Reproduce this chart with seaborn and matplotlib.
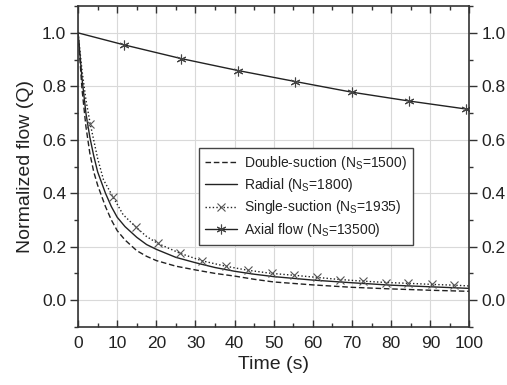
import numpy as np
import matplotlib
matplotlib.use("Agg")
import matplotlib.pyplot as plt
from matplotlib.lines import Line2D
from matplotlib.ticker import MultipleLocator
import seaborn as sns

# ---- data ----
t_double = [0, 1, 2, 3, 4, 5, 7, 8.5, 10, 12, 15, 17.5, 20, 25, 30, 35, 40, 45,
            50, 60, 70, 80, 90, 100]
q_double = [1.0, 0.79, 0.65, 0.55, 0.48, 0.43, 0.35, 0.30, 0.26, 0.225, 0.185,
            0.164, 0.148, 0.127, 0.113, 0.10, 0.09, 0.078, 0.068, 0.057, 0.048,
            0.042, 0.037, 0.033]

t_radial = [0, 1, 2, 3, 4, 5, 7, 8.5, 10, 12, 15, 17.5, 20, 25, 30, 35, 40, 45,
            50, 60, 70, 80, 90, 100]
q_radial = [1.0, 0.83, 0.70, 0.61, 0.54, 0.48, 0.40, 0.35, 0.31, 0.275, 0.235,
            0.208, 0.19, 0.16, 0.14, 0.122, 0.108, 0.097, 0.088, 0.075, 0.065,
            0.056, 0.05, 0.044]

t_single = [0, 1, 2, 3.1, 5, 6.5, 8.9, 11.5, 14.8, 17.5, 20.4, 26.1, 31.7, 37.7,
            43.3, 49.5, 55.2, 61.1, 67.0, 72.9, 78.7, 84.4, 90.3, 96.1, 100]
q_single = [1.0, 0.86, 0.75, 0.66, 0.53, 0.45, 0.387, 0.32, 0.273, 0.238, 0.212,
            0.175, 0.147, 0.127, 0.112, 0.10, 0.093, 0.085, 0.077, 0.071, 0.066,
            0.063, 0.059, 0.056, 0.053]
single_marker_t = [3.1, 8.9, 14.8, 20.4, 26.1, 31.7, 37.7, 43.3, 49.5, 55.2, 61.1,
                   67.0, 72.9, 78.7, 84.4, 90.3, 96.1]

t_axial = [0, 11.8, 26.3, 40.9, 55.5, 70.0, 84.6, 99.2, 100]
q_axial = [1.0, 0.955, 0.904, 0.859, 0.818, 0.778, 0.745, 0.715, 0.713]
axial_marker_t = [11.8, 26.3, 40.9, 55.5, 70.0, 84.6, 99.2]

labels = [r"Double-suction (N$_\mathregular{S}$=1500)",
          r"Radial (N$_\mathregular{S}$=1800)",
          r"Single-suction (N$_\mathregular{S}$=1935)",
          r"Axial flow (N$_\mathregular{S}$=13500)"]

x_ticks = list(range(0, 101, 10))
y_ticks = [0.0, 0.2, 0.4, 0.6, 0.8, 1.0]

# ---- style ----
sns.set_style("white")
plt.rcParams["font.family"] = ["Liberation Sans", "DejaVu Sans"]
plt.rcParams["mathtext.fontset"] = "custom"
plt.rcParams["mathtext.rm"] = "Liberation Sans"

ink = "#222222"
spine_c = "#333333"

fig = plt.figure(figsize=(5.07, 3.85), dpi=100)
ax = fig.add_axes([0.154, 0.151, 0.772, 0.833])

asterisk = (6, 2, 0)
single_idx = [i for i, t in enumerate(t_single) if t in single_marker_t]
axial_idx = [i for i, t in enumerate(t_axial) if t in axial_marker_t]

sns.lineplot(x=t_double, y=q_double, ax=ax, color=ink, lw=1.0,
             linestyle=(0, (4, 2)), sort=False)
sns.lineplot(x=t_radial, y=q_radial, ax=ax, color=ink, lw=1.0, sort=False)
sns.lineplot(x=t_single, y=q_single, ax=ax, color=ink, lw=1.0,
             linestyle=(0, (1, 1.6)), marker="x", markersize=6,
             markeredgewidth=0.8, markeredgecolor="#555555",
             markevery=single_idx, sort=False)
sns.lineplot(x=t_axial, y=q_axial, ax=ax, color=ink, lw=1.0,
             marker=asterisk, markersize=7, markeredgewidth=0.8,
             markeredgecolor="#444444", markevery=axial_idx, sort=False)

ax.set_xlim(0, 100)
ax.set_ylim(-0.1, 1.1)
ax.set_xticks(x_ticks)
ax.set_yticks(y_ticks)
ax.xaxis.set_minor_locator(MultipleLocator(5))
ax.yaxis.set_minor_locator(MultipleLocator(0.1))
ax.set_yticklabels([f"{v:.1f}" for v in y_ticks])

ax.grid(True, which="major", color="#d9d9d9", lw=0.8)
ax.set_axisbelow(True)

for s in ax.spines.values():
    s.set_visible(True)
    s.set_color(spine_c)
    s.set_linewidth(1.2)

ax.tick_params(axis="x", which="both", direction="in", top=True, bottom=True,
               labelsize=12.5, color=spine_c, width=1.0, pad=6.5)
ax.tick_params(axis="x", which="major", length=5)
ax.tick_params(axis="x", which="minor", length=3)
ax.tick_params(axis="y", which="both", direction="out", left=True, right=True,
               labelleft=True, labelright=True, labelsize=12.5, color=spine_c,
               width=1.0, pad=2.5)
ax.tick_params(axis="y", which="major", length=6)
ax.tick_params(axis="y", which="minor", length=3)
for lab in ax.get_xticklabels() + ax.get_yticklabels():
    lab.set_color(ink)

ax.set_xlabel("Time (s)", fontsize=14, color=ink, labelpad=4)
ax.set_ylabel("Normalized flow (Q)", fontsize=14, color=ink, labelpad=6)

handles = [
    Line2D([], [], color=ink, lw=1.0, linestyle=(0, (4, 2))),
    Line2D([], [], color=ink, lw=1.0),
    Line2D([], [], color=ink, lw=1.0, linestyle=(0, (1, 1.6)), marker="x",
           markersize=6, markeredgewidth=0.8, markeredgecolor="#555555"),
    Line2D([], [], color=ink, lw=1.0, marker=asterisk, markersize=7,
           markeredgewidth=0.8, markeredgecolor="#444444"),
]
leg = ax.legend(handles, labels, loc="upper left", bbox_to_anchor=(0.309, 0.558),
                borderaxespad=0, fontsize=10, frameon=True, fancybox=False,
                edgecolor="#444444", framealpha=1, handlelength=2.3,
                handletextpad=0.5, labelspacing=0.3, borderpad=0.45)
leg.get_frame().set_linewidth(1.0)
for txt in leg.get_texts():
    txt.set_color(ink)

fig.savefig("out.png", dpi=100)
